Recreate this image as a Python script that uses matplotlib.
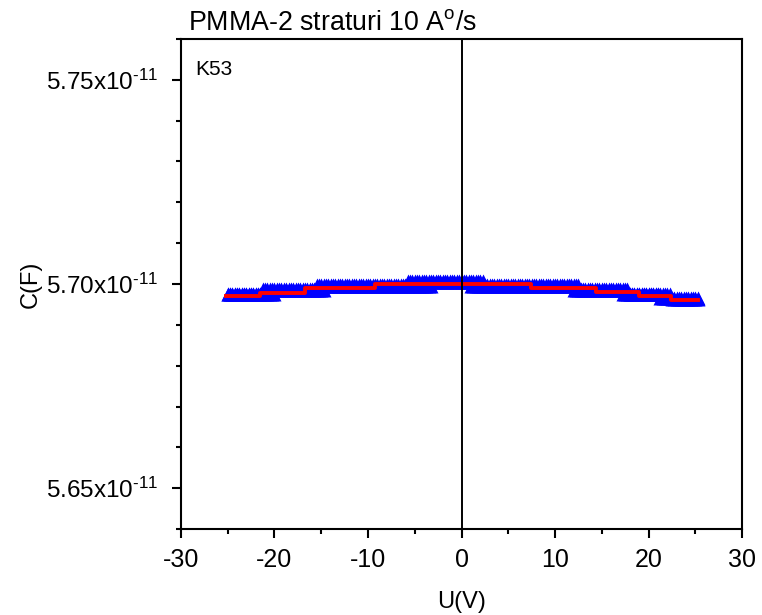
import numpy as np
import matplotlib
matplotlib.use('Agg')
import matplotlib.pyplot as plt
from matplotlib.ticker import MultipleLocator, FuncFormatter

plt.rcParams['font.family'] = ['Liberation Sans', 'DejaVu Sans']
plt.rcParams['mathtext.fontset'] = 'custom'
plt.rcParams['mathtext.rm'] = 'Liberation Sans'
plt.rcParams['mathtext.default'] = 'regular'
plt.rcParams['axes.unicode_minus'] = False

# step data (C in units of 1e-11 F)
blue_up_edges = [-25.2, -21.3, -15.6, -5.9, 2.3, 12.6, 17.8, 22.3, 25.3]
blue_up_levels = [5.6975, 5.6987, 5.6997, 5.7007, 5.6997, 5.6987, 5.6976, 5.6964]
blue_dn_edges = [-25.2, -19.9, -14.7, -3.2, 1.0, 11.9, 17.1, 21.2, 25.3]
blue_dn_levels = [5.6975, 5.6985, 5.6996, 5.7005, 5.6995, 5.6985, 5.6975, 5.6965]
red_edges = [-25.2, -21.5, -16.7, -9.2, 7.4, 14.4, 19.0, 22.4, 25.3]
red_levels = [5.6971, 5.6979, 5.6991, 5.7001, 5.6991, 5.6980, 5.6971, 5.6960]
sweep_u = np.arange(-25.0, 25.26, 0.25)


def sample(edges, levels, u):
    idx = np.clip(np.searchsorted(edges, u, side='right') - 1, 0, len(levels) - 1)
    return np.array(levels)[idx] * 1e-11


def ylab(v, pos):
    return '%.2fx10$^{\\text{-11}}$' % (v / 1e-11)


fig = plt.figure(figsize=(7.62, 6.15), dpi=100)
ax = fig.add_axes([0.2375, 0.1398, 0.7363, 0.7968])

for edges, levels in [(blue_up_edges, blue_up_levels), (blue_dn_edges, blue_dn_levels)]:
    ax.plot(sweep_u, sample(edges, levels, sweep_u), linestyle='none', marker='^',
            ms=9.5, color='#0000ff', mec='none')

ax.plot(red_edges, np.array(red_levels + [red_levels[-1]]) * 1e-11,
        drawstyle='steps-post', color='#ff0000', lw=2.8)

ax.axvline(0, color='black', lw=1.4)

ax.set_xlim(-30, 30)
ax.set_ylim(5.64e-11, 5.76e-11)
ax.xaxis.set_major_locator(MultipleLocator(10))
ax.xaxis.set_minor_locator(MultipleLocator(5))
ax.yaxis.set_major_locator(MultipleLocator(0.05e-11))
ax.yaxis.set_minor_locator(MultipleLocator(0.01e-11))
ax.yaxis.set_major_formatter(FuncFormatter(ylab))

for s in ax.spines.values():
    s.set_linewidth(1.5)
ax.tick_params(which='both', direction='out', width=1.5, top=False, right=False)
ax.tick_params(which='major', length=6.5)
ax.tick_params(which='minor', length=3.5)
ax.tick_params(axis='x', labelsize=18, pad=7)
ax.tick_params(axis='y', labelsize=17.5, pad=10)

ax.set_xlabel('U(V)', fontsize=17, labelpad=14)
ax.set_ylabel('C(F)', fontsize=17, labelpad=3)

ax.text(0.0125, 1.006, 'PMMA-2 straturi 10 A$^{o}$/s', transform=ax.transAxes,
        fontsize=19.3, ha='left', va='bottom')
ax.text(0.025, 0.958, 'K53', transform=ax.transAxes, fontsize=15, ha='left', va='top')

fig.savefig('out.png', dpi=100)
